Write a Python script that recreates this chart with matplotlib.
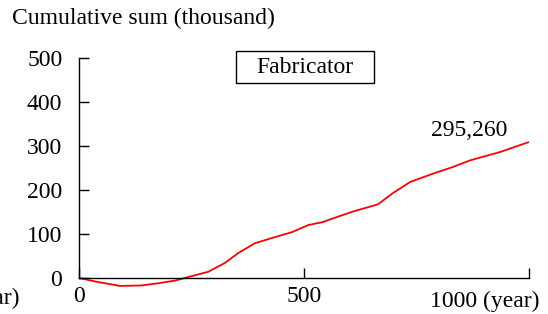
#!/usr/bin/env python3
import numpy as np
import matplotlib
matplotlib.use("Agg")
import matplotlib.pyplot as plt
from matplotlib.patches import Rectangle

plt.rcParams['font.family'] = ['Liberation Serif', 'DejaVu Serif']

# cumulative sum (thousand)
years = [0, 36, 91, 138, 176, 213, 242, 287, 324, 353, 391, 436, 473, 491,
         509, 542, 558, 609, 664, 698, 736, 787, 831, 869, 936, 998]
cumsum = [0, -8, -18, -17, -12, -6, 2, 14, 34, 56, 79, 93, 104, 112,
          120, 127, 133, 151, 167, 193, 218, 237, 252, 267, 286, 308]
yticks = [0, 100, 200, 300, 400, 500]
xticks = [0, 500, 1000]
xticklabels = ['0', '500', '']
final_label = '295,260'
legend_label = 'Fabricator'

FS = 17

fig = plt.figure(figsize=(5.48, 3.14), dpi=100)
ax = fig.add_axes([0.1442, 0.0796, 0.8212, 0.7366])

ax.plot(years, cumsum, color='#ff0000', lw=1.3)
ax.set_xlim(0, 1000)
ax.set_ylim(-25, 500)

for s in ['top', 'right']:
    ax.spines[s].set_visible(False)
ax.spines['bottom'].set_position(('data', 0))
ax.spines['left'].set_bounds(0, 500)
for s in ['bottom', 'left']:
    ax.spines[s].set_linewidth(1.0)

ax.set_yticks(yticks)
ax.set_xticks(xticks)
ax.set_xticklabels(xticklabels)
ax.tick_params(axis='y', direction='in', length=7, width=1.0, pad=12, labelsize=FS)
ax.tick_params(axis='x', direction='in', length=7, width=1.0, pad=6, labelsize=FS)

ax.text(780, -0.055, '1000 (year)', transform=ax.get_xaxis_transform(),
        ha='left', va='center', fontsize=FS)
ax.text(868, 335, final_label, ha='center', va='center', fontsize=FS)

fig.text(12 / 548, 1 - 18 / 314, 'Cumulative sum (thousand)', ha='left', va='center', fontsize=FS)
fig.text(20 / 548, 1 - 298 / 314, '(year)', ha='right', va='center', fontsize=FS)

fig.patches.append(Rectangle((236 / 548, 1 - 83.3 / 314), 138 / 548, 32.6 / 314,
                             transform=fig.transFigure, fill=False, lw=1.0, ec='black'))
fig.text(305 / 548, 1 - 67 / 314, legend_label, ha='center', va='center', fontsize=FS)

fig.savefig('out.png', dpi=100)
